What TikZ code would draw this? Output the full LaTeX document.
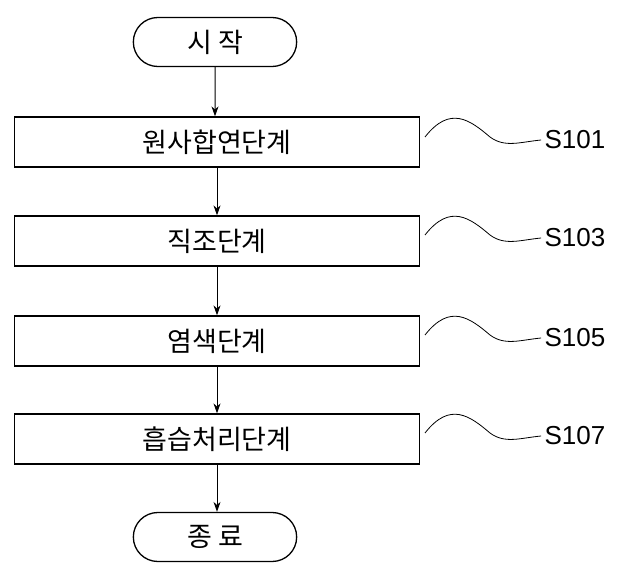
\documentclass[tikz,border=0pt]{standalone}
\usepackage{fontspec}
\setmainfont{Liberation Sans}
\newfontfamily\kr{Noto Sans CJK KR}
\usetikzlibrary{positioning,shapes.misc,arrows.meta}
\tikzset{
  stage/.style={rectangle,draw,line width=1.3pt,minimum width=405pt,minimum height=50pt,font=\kr\fontsize{27}{30}\selectfont},
  term/.style={rounded rectangle,draw,line width=1.3pt,minimum width=170pt,minimum height=49pt,font=\kr\fontsize{27}{30}\selectfont},
  flow/.style={-{Stealth[length=10pt,width=7pt]},line width=1pt},
  tag/.style={font=\fontsize{26}{30}\selectfont},
  wave/.style={line width=0.8pt}
}
\begin{document}
\begin{tikzpicture}[x=1pt,y=-1pt]
\useasboundingbox (0,0) rectangle (621,575);
% steps
\node[term] (start) at (215,42) {시 작};
\node[stage] (s1) at (217,142) {원사합연단계};
\node[stage] (s2) at (217,241) {직조단계};
\node[stage] (s3) at (217,341) {염색단계};
\node[stage] (s4) at (217,439) {흡습처리단계};
\node[term] (stop) at (215,537) {종 료};

\draw[flow] (start) -- (start |- s1.north);
\draw[flow] (s1) -- (s1 |- s2.north);
\draw[flow] (s2) -- (s2 |- s3.north);
\draw[flow] (s3) -- (s3 |- s4.north);
\draw[flow] (s4) -- (s4 |- stop.north);

% labels
\foreach \t/\y in {S101/140, S103/238, S105/338, S107/436}{
  \node[tag] (\t) at (575,\y) {\t};
  \coordinate (a\t) at (425,\y-3);
  \draw[wave] (a\t) .. controls (450,\y-35) and (470,\y-20) .. (490,\y-3)
    .. controls (505,\y+8) and (520,\y+2) .. (\t.west);
}
\end{tikzpicture}
\end{document}
